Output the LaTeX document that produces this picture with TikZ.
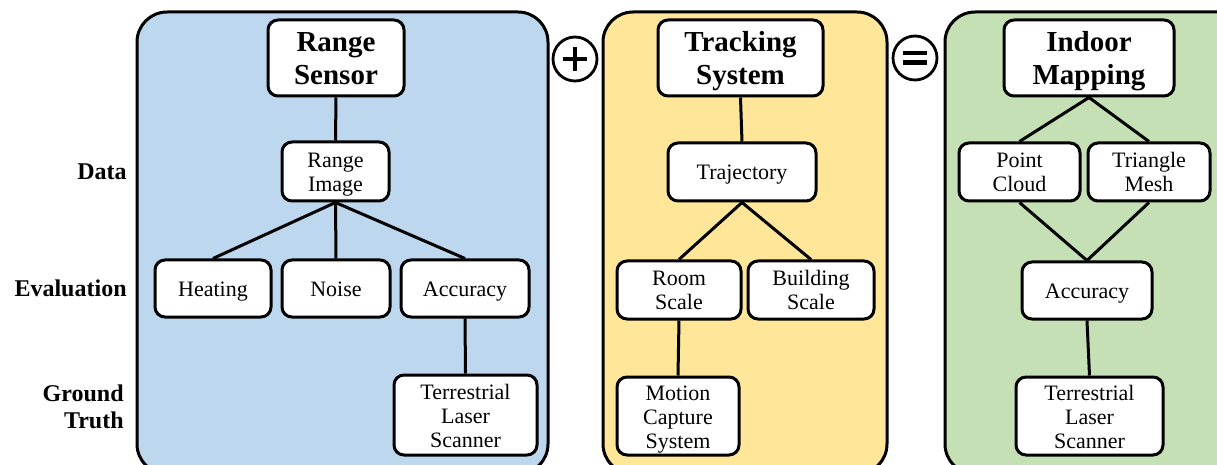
\documentclass[tikz,border=0pt]{standalone}
\usepackage{fontspec}
\setmainfont{Liberation Serif}
\definecolor{blueF}{HTML}{BDD7EE}
\definecolor{goldF}{HTML}{FFE699}
\definecolor{greenF}{HTML}{C5E0B4}
\tikzset{
  panel/.style={draw, line width=1.5pt, rounded corners=15pt},
  box/.style={draw, line width=1.5pt, rounded corners=5pt, fill=white,
    align=center, inner sep=0pt, text depth=0pt, text height=8pt,
    font=\fontsize{11}{12}\selectfont},
  % text blocks of two and three lines, centred on their capitals
  twoline/.style={text height=19.6pt},
  threeline/.style={text height=32.4pt},
  headbox/.style={box, text height=26.2pt,
    font=\fontsize{14.5}{16.5}\selectfont\bfseries},
  link/.style={line width=1.5pt},
  rowlabel/.style={anchor=east, align=right, inner sep=0pt,
    font=\fontsize{12}{13.5}\selectfont\bfseries},
  opcircle/.style={draw, circle, line width=1.4pt, minimum size=22pt, inner sep=0pt},
}
\begin{document}
\begin{tikzpicture}[x=0.5pt, y=-0.5pt]
\useasboundingbox (0,0) rectangle (1217,465);

% three panels
\draw[panel, fill=blueF]  (137,12) rectangle (548,474);
\draw[panel, fill=goldF]  (603,12) rectangle (887,474);
\draw[panel, fill=greenF] (945,12) rectangle (1250,474);

% operators between the panels
\node[opcircle] (plus) at (575,59) {};
\draw[line width=2.4pt] ([xshift=-6pt]plus.center) -- ([xshift=6pt]plus.center)
  ([yshift=-6pt]plus.center) -- ([yshift=6pt]plus.center);
\node[opcircle] (eq) at (915,58) {};
\draw[line width=2.1pt] ([xshift=-6.2pt,yshift=2.3pt]eq.center) -- ([xshift=6.2pt,yshift=2.3pt]eq.center)
  ([xshift=-6.2pt,yshift=-2.3pt]eq.center) -- ([xshift=6.2pt,yshift=-2.3pt]eq.center);

% row labels
\node[rowlabel] (lData) at (127,172) {Data};
\node[rowlabel] (lEval) at (127,288) {Evaluation};
\node[rowlabel] (lGT)   at (124,407) {Ground\\Truth};

% range sensor branch
\node[headbox, minimum width=68pt, minimum height=38pt] (rs) at (336,58) {Range\\Sensor};
\node[box, twoline, minimum width=53.5pt, minimum height=29.5pt] (ri) at (335.5,171.5) {Range\\Image};
\node[box, minimum width=58pt, minimum height=28.5pt] (heat) at (213,288.5) {Heating};
\node[box, minimum width=54pt, minimum height=28.5pt] (noise) at (336,288.5) {Noise};
\node[box, minimum width=64pt, minimum height=28.5pt] (acc1) at (465,288.5) {Accuracy};
\node[box, threeline, minimum width=71.5pt, minimum height=40pt] (tls1) at (465.5,415) {Terrestrial\\Laser\\Scanner};

% tracking system branch
\node[headbox, minimum width=82.5pt, minimum height=38pt] (ts) at (740.5,58) {Tracking\\System};
\node[box, minimum width=74pt, minimum height=29pt] (traj) at (742,172) {Trajectory};
\node[box, twoline, minimum width=62pt, minimum height=29pt] (room) at (679,290) {Room\\Scale};
\node[box, twoline, minimum width=63pt, minimum height=29pt] (bldg) at (811,290) {Building\\Scale};
\node[box, threeline, minimum width=61pt, minimum height=39pt] (mocap) at (678,416) {Motion\\Capture\\System};

% indoor mapping branch
\node[headbox, minimum width=85pt, minimum height=38pt] (im) at (1089,58) {Indoor\\Mapping};
\node[box, twoline, minimum width=60.5pt, minimum height=29pt] (pc) at (1019.5,172) {Point\\Cloud};
\node[box, twoline, minimum width=61pt, minimum height=29pt] (tm) at (1149,172) {Triangle\\Mesh};
\node[box, minimum width=65pt, minimum height=28.5pt] (acc2) at (1087,290.5) {Accuracy};
\node[box, threeline, minimum width=73.5pt, minimum height=39pt] (tls2) at (1089.5,416) {Terrestrial\\Laser\\Scanner};

% connectors
\draw[link] (rs.south) -- (ri.north);
\draw[link] (ri.south) -- (heat.north);
\draw[link] (ri.south) -- (noise.north);
\draw[link] (ri.south) -- (acc1.north);
\draw[link] (acc1.south) -- (tls1.north);

\draw[link] (ts.south) -- (traj.north);
\draw[link] (traj.south) -- (room.north);
\draw[link] (traj.south) -- (bldg.north);
\draw[link] (room.south) -- (mocap.north);

\draw[link] (im.south) -- (pc.north);
\draw[link] (im.south) -- (tm.north);
\draw[link] (pc.south) -- (acc2.north);
\draw[link] (tm.south) -- (acc2.north);
\draw[link] (acc2.south) -- (tls2.north);
\end{tikzpicture}
\end{document}
